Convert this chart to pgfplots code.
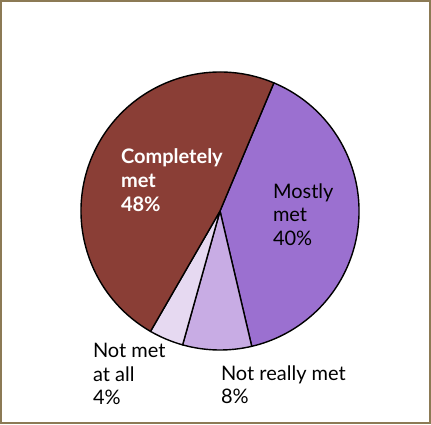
\documentclass[border=0pt]{standalone}
\usepackage{pgfplots}
\pgfplotsset{compat=1.18}
\usepackage{fontspec}
\setmainfont{Lato}
\definecolor{completely}{RGB}{138,62,54}
\definecolor{mostly}{RGB}{155,112,208}
\definecolor{notreally}{RGB}{200,172,228}
\definecolor{notatall}{RGB}{230,217,241}
\definecolor{frame}{RGB}{140,122,85}
\tikzset{lbl/.style={anchor=base west, inner sep=0pt, outer sep=0pt, font=\fontsize{10}{12}\selectfont}}

\begin{document}
\begin{tikzpicture}
\begin{axis}[
    x=0.5pt, y=0.5pt,
    xmin=0, xmax=431, ymin=0, ymax=424,
    hide axis, clip=false,
]
% share of answers, clockwise from the upper right
\pgfplotsextra{
  \foreach \v/\c [remember=\b as \a (initially 67.2)] in
      {40/mostly, 8/notreally, 4/notatall, 48/completely}{
    \pgfmathsetmacro\b{\a-3.6*\v}
    \filldraw[fill=\c, draw=black, line width=0.7pt, line join=round]
      (axis cs:220,213) -- ++(\a:69.5pt)
      arc[start angle=\a, end angle=\b, radius=69.5pt] -- cycle;
  }
}
\draw[frame, line width=1pt] (axis cs:1,1) rectangle (axis cs:430,423);

\node[lbl, text=white, font=\fontsize{10}{12}\selectfont\bfseries] at (axis cs:121,261) {Completely};
\node[lbl, text=white, font=\fontsize{10}{12}\selectfont\bfseries] at (axis cs:121,237) {met};
\node[lbl, text=white, font=\fontsize{10}{12}\selectfont\bfseries] at (axis cs:121,213) {48\%};

\node[lbl] at (axis cs:273,226) {Mostly};
\node[lbl] at (axis cs:273,203) {met};
\node[lbl] at (axis cs:273,179) {40\%};

\node[lbl] at (axis cs:93,67) {Not met};
\node[lbl] at (axis cs:93,43) {at all};
\node[lbl] at (axis cs:93,20) {4\%};

\node[lbl] at (axis cs:221,44) {Not really met};
\node[lbl] at (axis cs:221,21) {8\%};
\end{axis}
\end{tikzpicture}
\end{document}
